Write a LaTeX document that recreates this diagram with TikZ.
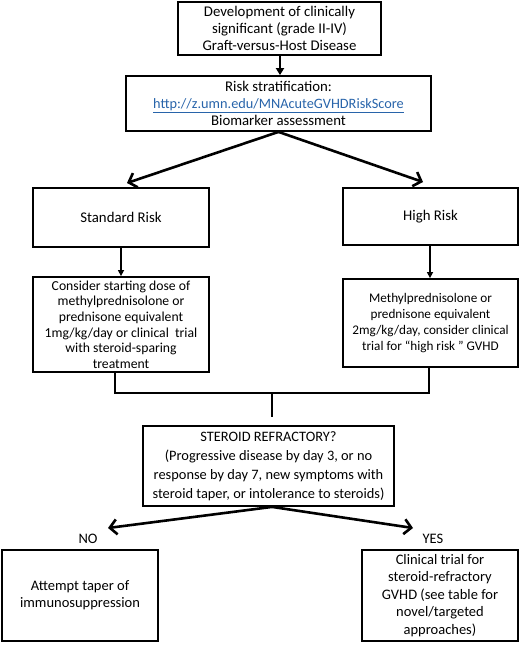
\documentclass[tikz,border=0pt]{standalone}
\usepackage{fontspec}
\setmainfont{Carlito}
\usetikzlibrary{arrows.meta}
\definecolor{linkblue}{RGB}{40,100,170}
\begin{document}
\begin{tikzpicture}[x=1pt,y=-1pt,
  box/.style={draw, line width=1.8pt, align=center, inner sep=0pt, font=\fontsize{14.8}{17}\selectfont},
  smallbox/.style={box, font=\fontsize{13.7}{15.6}\selectfont},
  thickline/.style={line width=2.6pt},
  bigarrow/.style={line width=2.6pt, -{Straight Barb[length=7pt,width=15pt,line width=2.6pt]}},
  thinarrow/.style={line width=1.4pt, -{Triangle[length=6pt,width=6pt]}},
  lbl/.style={font=\fontsize{14.5}{17}\selectfont, inner sep=0pt}]
\useasboundingbox (0,0) rectangle (520,645);
\node[box, minimum width=203pt, minimum height=53pt] (dev) at (279.5,28.5)
  {Development of clinically\\significant (grade II-IV)\\Graft-versus-Host Disease};
\node[box, minimum width=305pt, minimum height=55pt] (risk) at (278.5,103.5)
  {Risk stratification:\\{\fontsize{14.3}{17}\selectfont\color{linkblue}\underline{http://z.umn.edu/MNAcuteGVHDRiskScore}}\\Biomarker assessment};
\node[box, minimum width=176pt, minimum height=59pt] (std) at (121,217.5) {Standard Risk};
\node[box, minimum width=175pt, minimum height=57pt] (high) at (430.5,216.5) {High Risk};
\node[smallbox, minimum width=176pt, minimum height=95pt] (cons) at (121,324.5)
  {Consider starting dose of\\methylprednisolone or\\prednisone equivalent\\1mg/kg/day or clinical\ \ trial\\with steroid-sparing\\treatment};
\node[smallbox, minimum width=175pt, minimum height=88pt, font=\fontsize{13.2}{16}\selectfont] (meth) at (430.5,323)
  {Methylprednisolone or\\prednisone equivalent\\2mg/kg/day, consider clinical\\trial for ``high risk '' GVHD};
\node[box, minimum width=251pt, minimum height=80pt, font=\fontsize{14.4}{19}\selectfont] (ster) at (268.5,466)
  {STEROID REFRACTORY?\\(Progressive disease by day 3, or no\\response by day 7, new symptoms with\\steroid taper, or intolerance to steroids)};
\node[box, minimum width=156pt, minimum height=91pt, font=\fontsize{14.5}{17}\selectfont] (taper) at (80,595.5)
  {Attempt taper of\\immunosuppression};
\node[box, minimum width=156pt, minimum height=91pt, font=\fontsize{14.5}{17.5}\selectfont] (trial) at (440,595.5)
  {Clinical trial for\\steroid-refractory\\GVHD (see table for\\novel/targeted\\approaches)};
\node[lbl] (no) at (88,539) {NO};
\node[lbl] (yes) at (433,539) {YES};
\coordinate (lt) at (127,183);
\coordinate (rt) at (423,182);
\coordinate (j) at (272,393);
\coordinate (jend) at (272,417);
\coordinate (nt) at (108,528);
\coordinate (yt) at (413,528);
\draw[line width=2.6pt, -{Triangle[length=7pt,width=8pt]}] (dev.south -| 280,0) -- (risk.north -| 280,0);
\draw[bigarrow] (risk.south) -- (lt);
\draw[bigarrow] (risk.south) -- (rt);
\draw[thinarrow] (std.south) -- (cons.north);
\draw[thinarrow] (high.south -| 430,0) -- (meth.north -| 430,0);
\draw[thickline] (cons.south -| 115,0) |- (j) -| (meth.south -| 429,0);
\draw[thickline] (j) -- (jend);
\draw[bigarrow] (ster.south -| 272,0) -- (nt);
\draw[bigarrow] (ster.south -| 272,0) -- (yt);
\end{tikzpicture}
\end{document}
